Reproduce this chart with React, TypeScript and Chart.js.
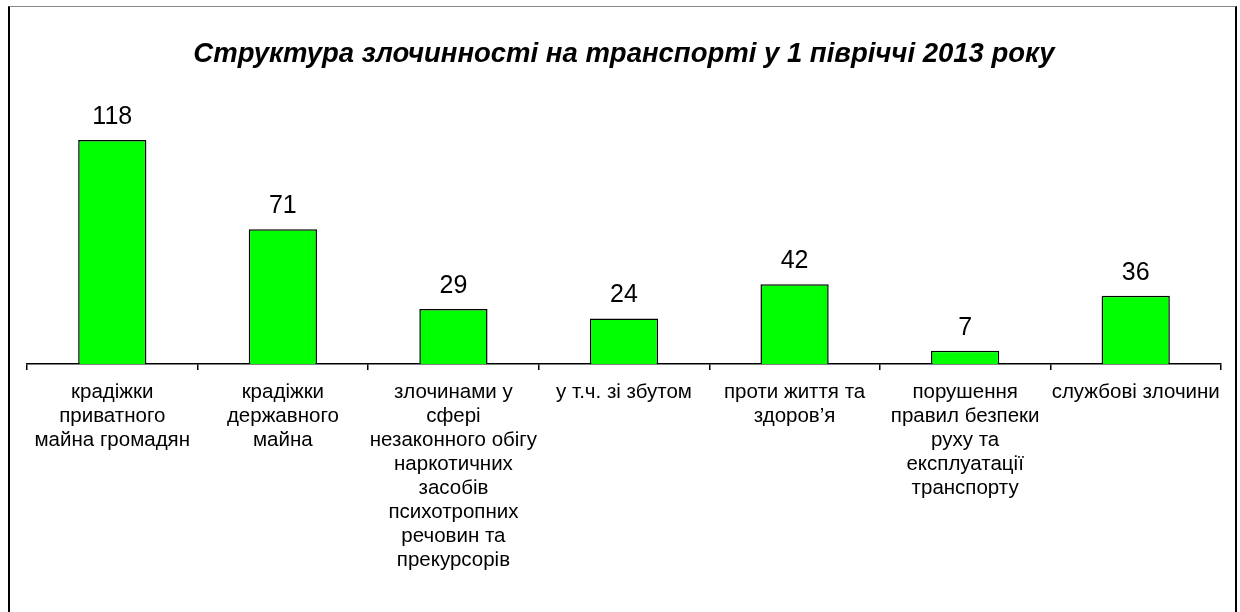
import React, { useEffect, useRef } from "react";
import { Chart, registerables } from "chart.js";

Chart.register(...registerables);

const TITLE = "Структура злочинності на транспорті у 1 півріччі 2013 року";

const categories: string[][] = [
  ["крадіжки", "приватного", "майна громадян"],
  ["крадіжки", "державного", "майна"],
  ["злочинами у", "сфері", "незаконного обігу", "наркотичних", "засобів", "психотропних", "речовин та", "прекурсорів"],
  ["у т.ч. зі збутом"],
  ["проти життя та", "здоров’я"],
  ["порушення", "правил безпеки", "руху та", "експлуатації", "транспорту"],
  ["службові злочини"],
];

const values: number[] = [118, 71, 29, 24, 42, 7, 36];

const FONT = "'Liberation Sans', Arial, sans-serif";

const valueLabels = {
  id: "valueLabels",
  afterDatasetsDraw(chart: any) {
    const ctx = chart.ctx;
    const meta = chart.getDatasetMeta(0);
    ctx.save();
    ctx.font = `25px ${FONT}`;
    ctx.fillStyle = "#000";
    ctx.textAlign = "center";
    ctx.textBaseline = "alphabetic";
    meta.data.forEach((bar: any, i: number) => {
      ctx.fillText(String(chart.data.datasets[0].data[i]), bar.x, bar.y - 16);
    });
    ctx.restore();
  },
};

export default function App() {
  const ref = useRef<HTMLCanvasElement | null>(null);

  useEffect(() => {
    if (!ref.current) return;
    const chart = new Chart(ref.current, {
      type: "bar",
      data: {
        labels: categories,
        datasets: [
          {
            data: values,
            backgroundColor: "#00FF00",
            borderColor: "#000000",
            borderWidth: 1.5,
            categoryPercentage: 1,
            barPercentage: 0.4,
          },
        ],
      },
      options: {
        animation: false,
        responsive: false,
        devicePixelRatio: 1,
        layout: { padding: { left: 17, right: 14, top: 0, bottom: 0 } },
        plugins: {
          legend: { display: false },
          tooltip: { enabled: false },
          title: {
            display: true,
            text: TITLE,
            color: "#000",
            font: { family: FONT, size: 27.5, weight: "bold", style: "italic", lineHeight: 1.2 },
            padding: { top: 31, bottom: 16 },
          },
        },
        scales: {
          x: {
            offset: true,
            afterFit(scale: any) {
              scale.height = 248;
            },
            grid: {
              offset: true,
              drawOnChartArea: false,
              drawTicks: true,
              tickLength: 6,
              color: "#000",
              lineWidth: 1.5,
            },
            border: { display: true, color: "#000", width: 1.5 },
            ticks: {
              color: "#000",
              font: { family: FONT, size: 20.5, lineHeight: 24 / 20.5 },
              padding: 10,
              maxRotation: 0,
              minRotation: 0,
              autoSkip: false,
            },
          },
          y: {
            display: false,
            min: 0,
            max: 146,
          },
        },
      },
      plugins: [valueLabels],
    });
    return () => chart.destroy();
  }, []);

  return (
    <div
      style={{
        position: "absolute",
        left: 8,
        top: 6,
        width: 1225,
        height: 606,
        borderLeft: "2px solid #000",
        borderRight: "2px solid #000",
        borderTop: "1px solid #888",
        background: "#fff",
        overflow: "hidden",
      }}
    >
      <canvas ref={ref} width={1225} height={605} style={{ display: "block", width: 1225, height: 605 }} />
    </div>
  );
}
